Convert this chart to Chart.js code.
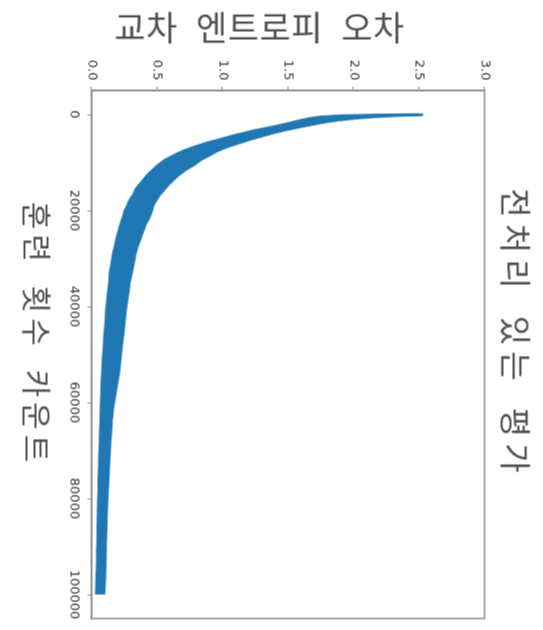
<!DOCTYPE html>
<html>
<head>
<meta charset="utf-8">
<script src="https://cdn.jsdelivr.net/npm/chart.js@4/dist/chart.umd.min.js"></script>
<style>
  html, body { margin: 0; padding: 0; background: #fff; overflow: hidden; }
  /* the chart is drawn upright, then the whole box is turned a quarter turn clockwise */
  #wrap {
    position: absolute;
    left: -43.5px; top: 43.5px;
    width: 630px; height: 543px;
    transform: rotate(90deg);
    transform-origin: center;
  }
</style>
</head>
<body>
<div id="wrap"><canvas id="chart" width="630" height="543"></canvas></div>
<script>
// training iterations where the band edges were read
const iterations = [
  0, 100, 250, 500, 800, 1200, 1600, 2000, 2600, 3300,
  3900, 4500, 5200, 6000, 6800, 7600, 8500, 9500, 10500, 11500,
  12500, 13500, 14500, 15500, 16700, 18000, 19000, 20000, 21500, 23000,
  24500, 26000, 27500, 29000, 31000, 33000, 35000, 37000, 39000, 41000,
  43500, 46000, 48500, 51000, 53500, 56000, 58500, 61000, 63500, 66000,
  68500, 71000, 73500, 76000, 78500, 81000, 83500, 86000, 88500, 91000,
  93500, 96000, 98000, 100000];
// lower edge of the noisy loss band
const errorMin = [
  2.50, 2.15, 1.90, 1.75, 1.67, 1.60, 1.54, 1.48, 1.38, 1.25,
  1.16, 1.07, 0.98, 0.87, 0.78, 0.70, 0.63, 0.56, 0.51, 0.47,
  0.43, 0.40, 0.37, 0.34, 0.32, 0.29, 0.275, 0.255, 0.24, 0.22,
  0.205, 0.19, 0.18, 0.165, 0.155, 0.142, 0.137, 0.128, 0.12, 0.113,
  0.108, 0.10, 0.095, 0.088, 0.084, 0.079, 0.076, 0.072, 0.07, 0.066,
  0.064, 0.061, 0.059, 0.056, 0.055, 0.052, 0.05, 0.048, 0.047, 0.044,
  0.043, 0.04, 0.039, 0.036];
// upper edge of the noisy loss band
const errorMax = [
  2.53, 2.47, 2.32, 2.15, 2.01, 1.88, 1.78, 1.70, 1.59, 1.47,
  1.38, 1.30, 1.21, 1.12, 1.03, 0.96, 0.90, 0.83, 0.78, 0.72,
  0.67, 0.63, 0.59, 0.56, 0.52, 0.49, 0.47, 0.46, 0.44, 0.41,
  0.39, 0.37, 0.35, 0.335, 0.32, 0.305, 0.29, 0.28, 0.27, 0.26,
  0.25, 0.24, 0.23, 0.22, 0.21, 0.195, 0.18, 0.165, 0.155, 0.148,
  0.142, 0.137, 0.132, 0.127, 0.123, 0.119, 0.115, 0.112, 0.109, 0.107,
  0.105, 0.103, 0.10, 0.095];

const xTickValues = [0, 20000, 40000, 60000, 80000, 100000];
const yTickValues = [0.0, 0.5, 1.0, 1.5, 2.0, 2.5, 3.0];

const titleText = '전처리 있는 평가';
const xLabel = '훈련 횟수 카운트';
const yLabel = '교차 엔트로피 오차';

const blue = '#1f77b4';
const spine = '#8c8c8c';

const lowPts = iterations.map((it, i) => ({ x: it, y: errorMin[i] }));
const highPts = iterations.map((it, i) => ({ x: it, y: errorMax[i] }));

function label(ctx, text, x, y, size, spacing, wordGap) {
  ctx.font = size + 'px "Noto Sans CJK KR"';
  ctx.letterSpacing = spacing + 'px';
  ctx.wordSpacing = wordGap + 'px';
  ctx.fillText(text, x, y);
}

// box around the plot and the three labels
const framePlugin = {
  id: 'frame',
  afterDraw(chart) {
    const { ctx, chartArea: a } = chart;
    ctx.save();
    ctx.strokeStyle = spine;
    ctx.lineWidth = 1.5;
    ctx.strokeRect(a.left, a.top, a.right - a.left, a.bottom - a.top);

    ctx.fillStyle = '#505050';
    ctx.textAlign = 'center';
    ctx.textBaseline = 'middle';
    label(ctx, titleText, 333, 28, 32, 6, 8);
    label(ctx, xLabel, 334, 507, 30, 5, 7);
    ctx.translate(27, 284);
    ctx.rotate(-Math.PI / 2);
    label(ctx, yLabel, 0, 0, 34, 0.5, 10);
    ctx.restore();
  }
};

new Chart(document.getElementById('chart'), {
  type: 'line',
  data: {
    datasets: [
      {
        data: lowPts,
        borderColor: blue,
        borderWidth: 2.5,
        pointRadius: 0,
        fill: false
      },
      {
        data: highPts,
        borderColor: blue,
        borderWidth: 2.5,
        backgroundColor: blue,
        pointRadius: 0,
        fill: '-1'
      }
    ]
  },
  options: {
    responsive: false,
    animation: false,
    layout: { padding: { left: 0, right: 12, top: 59, bottom: 0 } },
    plugins: {
      legend: { display: false },
      tooltip: { enabled: false }
    },
    scales: {
      x: {
        type: 'linear',
        min: -5000,
        max: 105000,
        afterBuildTicks: s => { s.ticks = xTickValues.map(v => ({ value: v })); },
        afterFit: s => { s.height = 91; },
        ticks: {
          color: '#333',
          font: { family: 'DejaVu Sans', size: 13 },
          padding: 6,
          maxRotation: 0,
          callback: v => String(v)
        },
        grid: { drawOnChartArea: false, tickLength: 4, color: spine },
        border: { color: spine, width: 1.5 }
      },
      y: {
        type: 'linear',
        min: 0,
        max: 3,
        afterBuildTicks: s => { s.ticks = yTickValues.map(v => ({ value: v })); },
        afterFit: s => { s.width = 90; },
        ticks: {
          color: '#333',
          font: { family: 'DejaVu Sans', size: 13 },
          padding: 6,
          callback: v => Number(v).toFixed(1)
        },
        grid: { drawOnChartArea: false, tickLength: 4, color: spine },
        border: { color: spine, width: 1.5 }
      }
    }
  },
  plugins: [framePlugin]
});
</script>
</body>
</html>
